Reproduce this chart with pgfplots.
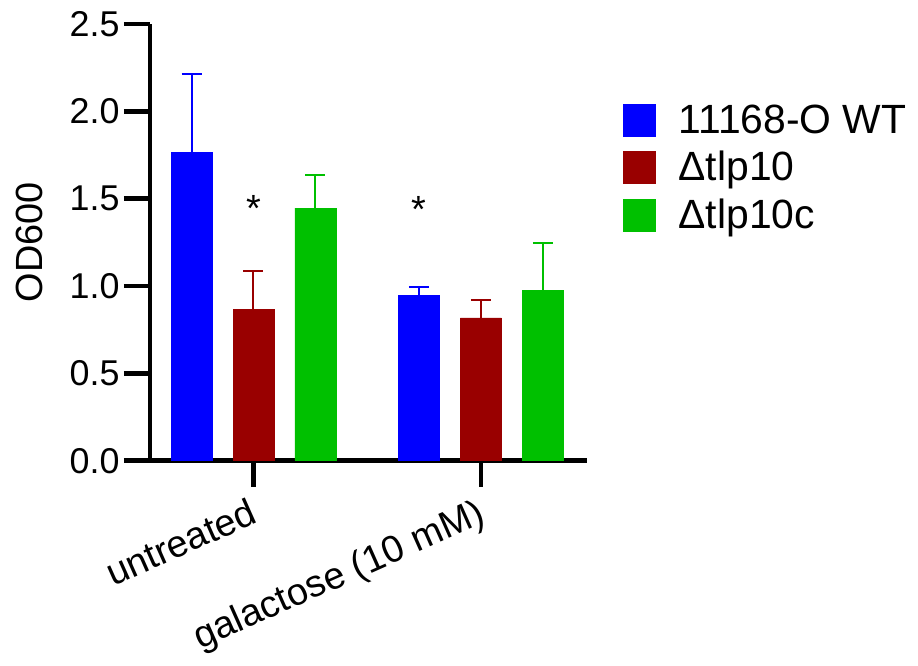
\documentclass[border=0pt]{standalone}
\usepackage{fontspec}
\setmainfont{Liberation Sans}
\usepackage{pgfplots}
\usepackage{pgfplotstable}
\pgfplotsset{compat=1.18}
\definecolor{wtblue}{RGB}{0,0,255}
\definecolor{kored}{RGB}{153,0,0}
\definecolor{cgreen}{RGB}{0,192,0}

% x y err  (groups at 0 and 1, bars offset by 0.2725)
\pgfplotstableread{
x y e
-0.2725 1.764 0.451
0.7275 0.946 0.051
}\wt
\pgfplotstableread{
x y e
0 0.866 0.221
1 0.817 0.101
}\ko
\pgfplotstableread{
x y e
0.2725 1.446 0.191
1.2725 0.975 0.272
}\comp

\begin{document}
\begin{tikzpicture}
\path (-75bp,-100.65bp) rectangle (384bp,230.35bp);
\begin{axis}[
  at={(0,0)}, anchor=south west,
  scale only axis, width=218.35bp, height=218.35bp,
  xmin=-0.455, xmax=1.465, ymin=0, ymax=2.5,
  axis lines=left,
  axis line style={-, line width=2.3bp},
  tick style={line width=2.4bp, black},
  major tick length=13bp, tick align=outside,
  ytick={0,0.5,1,1.5,2,2.5},
  yticklabel style={/pgf/number format/fixed, /pgf/number format/fixed zerofill,
    /pgf/number format/precision=1, /pgf/number format/assume math mode=true,
    font=\fontsize{18}{21}\selectfont, inner sep=2bp},
  xtick={0,1}, xticklabels={\mbox{untreated}, \mbox{galactose (10 mM)}},
  xticklabel style={rotate=24, anchor=north east, xshift=-1bp,
    font=\fontsize{19}{22}\selectfont},
  ylabel={OD600},
  ylabel style={at={(axis description cs:-0.275,0.5)}, anchor=center, font=\fontsize{19}{22}\selectfont},
  ybar, bar width=0.18, bar shift=0pt,
  clip=false,
  legend image code/.code={\fill[#1] (0bp,-8bp) rectangle (16bp,8bp);},
  legend style={draw=none, fill=none, at={(axis cs:1.596,2.085)}, anchor=north west,
    font=\fontsize{20.5}{24}\selectfont, row sep=3.5bp,
    /tikz/every odd column/.append style={column sep=9.5bp}},
  legend cell align=left,
  error bars/y dir=plus, error bars/y explicit,
]
\addplot[fill=wtblue, draw=wtblue,
  error bars/error bar style={line width=1bp, wtblue},
  error bars/error mark options={rotate=90, mark size=5bp, line width=1bp, wtblue}]
  table[x=x, y=y, y error=e] {\wt};
\addplot[fill=kored, draw=kored,
  error bars/error bar style={line width=1bp, kored},
  error bars/error mark options={rotate=90, mark size=5bp, line width=1bp, kored}]
  table[x=x, y=y, y error=e] {\ko};
\addplot[fill=cgreen, draw=cgreen,
  error bars/error bar style={line width=1bp, cgreen},
  error bars/error mark options={rotate=90, mark size=5bp, line width=1bp, cgreen}]
  table[x=x, y=y, y error=e] {\comp};
\legend{11168-O WT, Δtlp10, Δtlp10c}
\node[anchor=base, font=\fontsize{19}{22}\selectfont] at (axis cs:0,1.372) {*};
\node[anchor=base, font=\fontsize{19}{22}\selectfont] at (axis cs:0.7275,1.365) {*};
\end{axis}
\end{tikzpicture}
\end{document}
